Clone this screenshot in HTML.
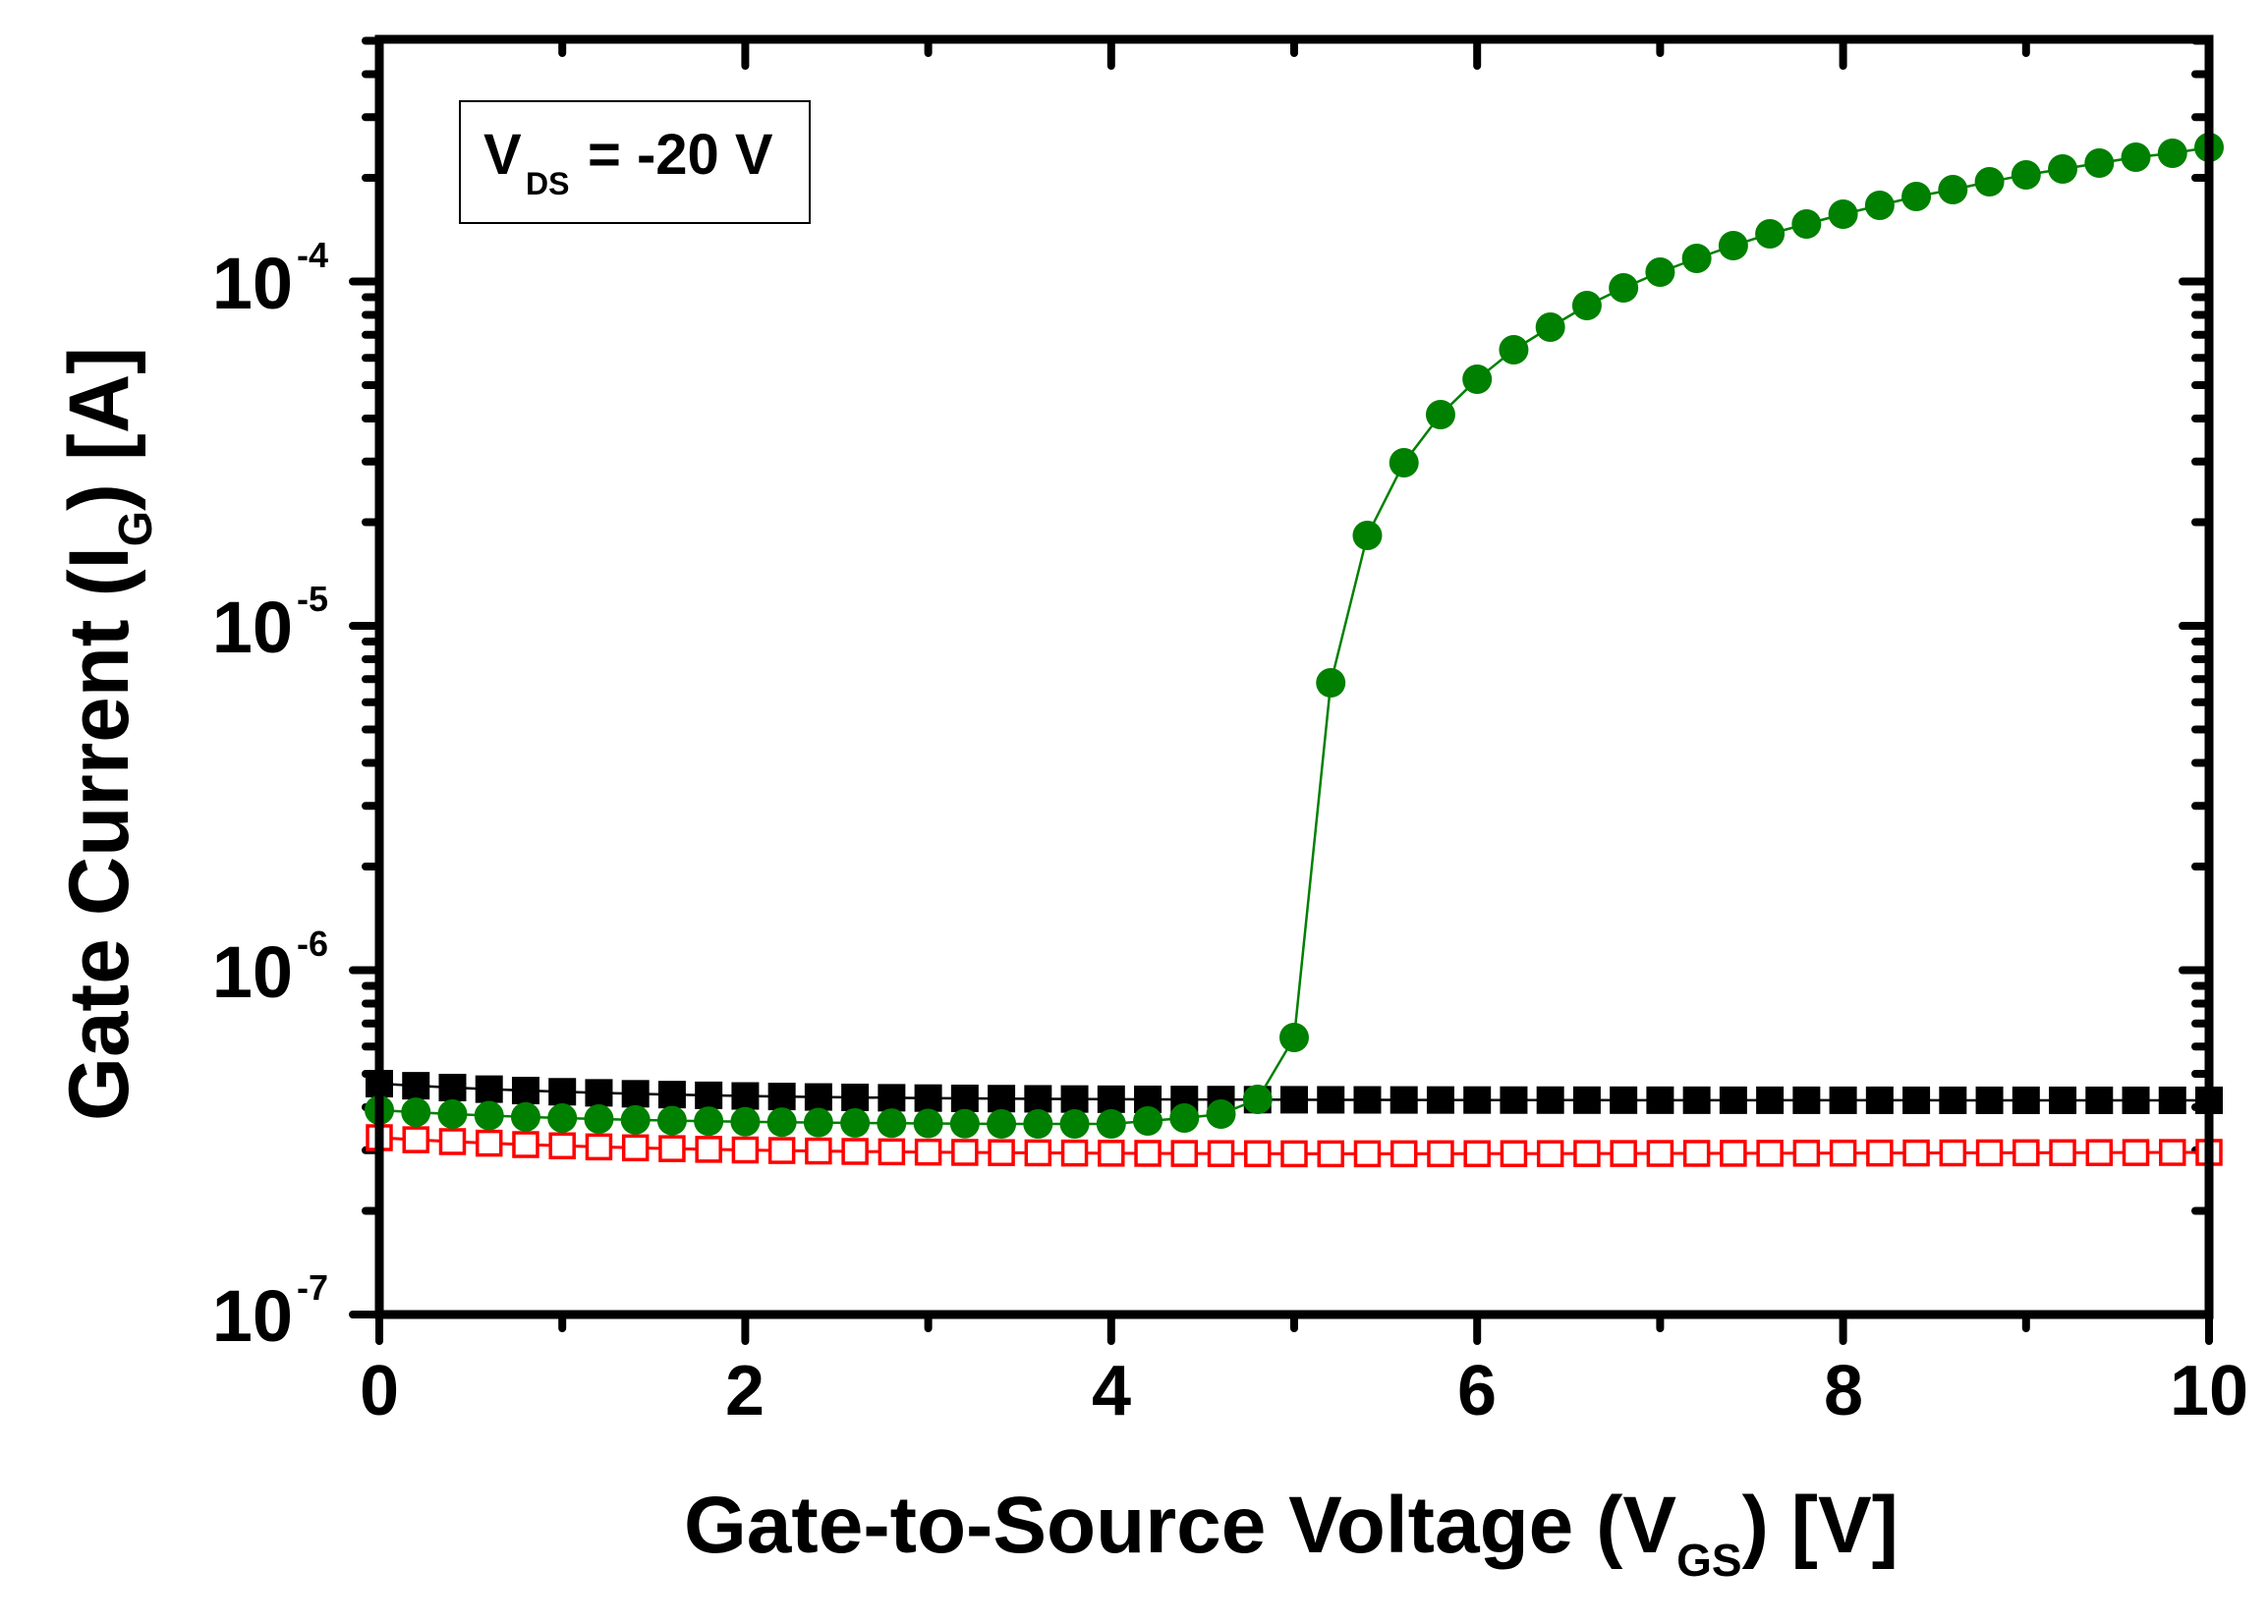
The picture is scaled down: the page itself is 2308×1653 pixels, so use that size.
<!DOCTYPE html>
<html><head><meta charset="utf-8">
<style>
html,body{margin:0;padding:0;background:#fff;}
svg{display:block;}
text{font-family:"Liberation Sans",Arial,sans-serif;font-weight:bold;fill:#000;}
</style></head>
<body>
<svg id="s" width="2308" height="1653" viewBox="0 0 2308 1653" xmlns="http://www.w3.org/2000/svg">
<g id="ticks" stroke="#000" stroke-width="8" stroke-linecap="round"></g>
<g id="data"></g>
<rect x="386" y="40" width="1862" height="1298" fill="none" stroke="#000" stroke-width="9"/>
<!-- legend box -->
<rect x="468" y="103" width="356" height="124" fill="#fff" stroke="#000" stroke-width="2"/>
<text x="492" y="177" font-size="58">V</text>
<text x="535" y="198" font-size="32">DS</text>
<text x="598" y="177" font-size="58">= -20 V</text>
<!-- x tick labels -->
<g font-size="72" text-anchor="middle">
<text x="386" y="1440">0</text>
<text x="758" y="1440">2</text>
<text x="1131" y="1440">4</text>
<text x="1503" y="1440">6</text>
<text x="1876" y="1440">8</text>
<text x="2248" y="1440">10</text>
</g>
<!-- y tick labels -->
<g>
<text x="298" y="314" font-size="74" text-anchor="end">10</text><text x="302" y="272" font-size="36">-4</text>
<text x="298" y="664" font-size="74" text-anchor="end">10</text><text x="302" y="622" font-size="36">-5</text>
<text x="298" y="1015" font-size="74" text-anchor="end">10</text><text x="302" y="973" font-size="36">-6</text>
<text x="298" y="1365" font-size="74" text-anchor="end">10</text><text x="302" y="1323" font-size="36">-7</text>
</g>
<!-- axis titles -->
<text x="696" y="1580" font-size="82" textLength="1236" lengthAdjust="spacingAndGlyphs">Gate-to-Source Voltage (V<tspan font-size="46" dy="24">GS</tspan><tspan dy="-24">) [V]</tspan></text>
<text transform="translate(130,1141) rotate(-90)" font-size="86" textLength="788" lengthAdjust="spacingAndGlyphs">Gate Current (I<tspan font-size="48" dy="24">G</tspan><tspan dy="-24">) [A]</tspan></text>
</svg>
<script>
(function(){
var NS="http://www.w3.org/2000/svg";
var X0=386,X1=2248,Yb=1338,D=350.5,Yt=40;
function X(v){return X0+(X1-X0)*v/10;}
function el(p,n,a){var e=document.createElementNS(NS,n);for(var k in a)e.setAttribute(k,a[k]);p.appendChild(e);return e;}
var t=document.getElementById('ticks');
// x ticks
for(var i=0;i<=10;i++){var x=X(i),maj=(i%2==0);
 el(t,'line',{x1:x,y1:Yb,x2:x,y2:Yb+(maj?27:14)});
 el(t,'line',{x1:x,y1:Yt,x2:x,y2:Yt+(maj?27:14)});}
// y ticks
for(var d=-7;d<=-4;d++){for(var m=1;m<=9;m++){var lv=d+Math.log10(m);var y=Yb-(lv+7)*D;if(y<Yt-1)continue;var maj=(m==1);
 el(t,'line',{x1:X0,y1:y,x2:X0-(maj?27:14),y2:y});
 el(t,'line',{x1:X1,y1:y,x2:X1-(maj?27:14),y2:y});}}
var g=document.getElementById('data');
var xs=[];for(var i=0;i<=50;i++)xs.push(i*0.2);
// black
var bk=xs.map(function(v){return 1103+17*(1-Math.exp(-v/1.5));});
// red
var rd=xs.map(function(v){var y=1158+17*(1-Math.exp(-v/1.5));if(v>5)y-= (v-5)*0.4;return y;});
// green
var gy=[];
for(var i=0;i<=50;i++){var v=xs[i],y;
 if(v<=3.4)y=1130+15*(1-Math.exp(-v/1.3));
 else if(v<=4.0)y=1144;
 else y=null;gy.push(y);}
var tail={20:1144,21:1141,22:1138,23:1134,24:1119,25:1056,26:695,27:545,28:471,29:422,30:386,31:356,32:333,33:311,34:293,35:277,36:263,37:250,38:238,39:228,40:218,41:209,42:200,43:193,44:185,45:178,46:172,47:166,48:160,49:156,50:150};
for(var k in tail)gy[k]=tail[k];
function pl(ys,col,w){return el(g,'polyline',{points:xs.map(function(v,i){return X(v)+','+ys[i];}).join(' '),fill:'none',stroke:col,'stroke-width':w});}
pl(bk,'#000',2.5);
xs.forEach(function(v,i){el(g,'rect',{x:X(v)-14,y:bk[i]-14,width:28,height:28,fill:'#000'});});
pl(rd,'#ff0000',3);
xs.forEach(function(v,i){el(g,'rect',{x:X(v)-12,y:rd[i]-12,width:24,height:24,fill:'#fff',stroke:'#ff0000','stroke-width':3.5});});
pl(gy,'#008000',2.5);
xs.forEach(function(v,i){el(g,'circle',{cx:X(v),cy:gy[i],r:15,fill:'#008000'});});
})();
</script>
</body></html>
